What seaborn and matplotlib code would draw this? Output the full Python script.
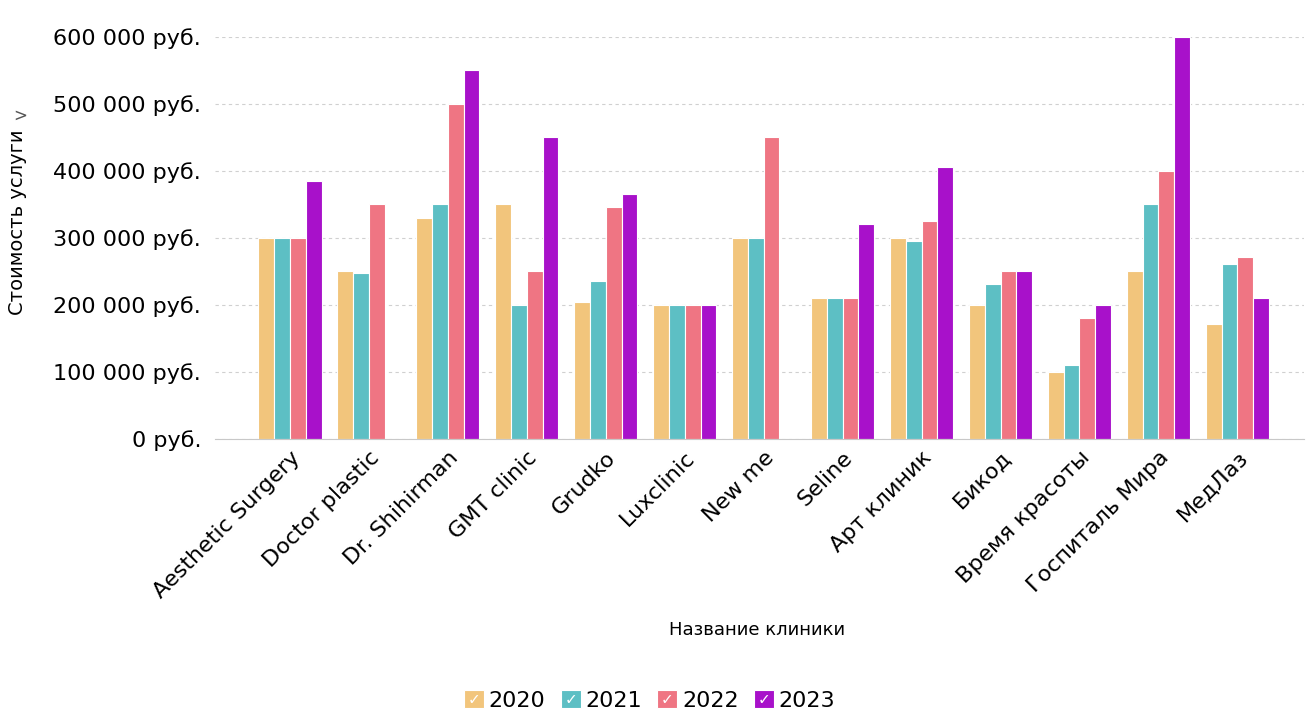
import numpy as np
import pandas as pd
import matplotlib
matplotlib.use("Agg")
import matplotlib.pyplot as plt
import seaborn as sns

# данные (стоимость услуги по клиникам и годам)
clinics = ["Aesthetic Surgery", "Doctor plastic", "Dr. Shihirman", "GMT clinic", "Grudko",
           "Luxclinic", "New me", "Seline", "Арт клиник", "Бикод", "Время красоты",
           "Госпиталь Мира", "МедЛаз"]
years = ["2020", "2021", "2022", "2023"]
v2020 = [300000, 250000, 330000, 350000, 205000, 200000, 300000, 210000, 300000, 200000, 100000, 250000, 171000]
v2021 = [300000, 248000, 350000, 200000, 236000, 200000, 300000, 210000, 296000, 231000, 110000, 350000, 261000]
v2022 = [300000, 350000, 500000, 250000, 346000, 200000, 450000, 210000, 326000, 250000, 181000, 400000, 271000]
v2023 = [385000, np.nan, 550000, 450000, 366000, 200000, np.nan, 321000, 406000, 250000, 200000, 600000, 210000]
colors = ["#F2C57C", "#5DBFC4", "#EF7583", "#A811CA"]

rows = []
for y, vals in zip(years, [v2020, v2021, v2022, v2023]):
    for c, v in zip(clinics, vals):
        rows.append({"clinic": c, "year": y, "price": v})
df = pd.DataFrame(rows)

sns.set_style("white")
plt.rcParams["font.family"] = ["DejaVu Sans"]
plt.rcParams["text.color"] = "black"
plt.rcParams["xtick.color"] = "black"
plt.rcParams["ytick.color"] = "black"

fig = plt.figure(figsize=(13.15, 7.25), dpi=100)
ax = fig.add_axes([0.1635, 0.3945, 0.8285, 0.5545])

sns.barplot(data=df.dropna(), x="clinic", y="price", hue="year", order=clinics,
            hue_order=years, palette=colors, width=0.8, errorbar=None,
            edgecolor="white", linewidth=0.8, saturation=1, ax=ax)

ax.set_ylim(0, 600000)
ax.set_xlim(-0.95, 12.85)
ax.set_yticks(range(0, 600001, 100000))
ax.set_yticklabels([f"{v:,}".replace(",", " ") + " руб." for v in range(0, 600001, 100000)],
                   fontsize=16)
ax.set_xticks(range(len(clinics)))
ax.set_xticklabels(clinics, rotation=45, ha="right", rotation_mode="anchor", fontsize=16)
ax.tick_params(axis="both", length=0, pad=10)
ax.tick_params(axis="x", pad=6)

ax.yaxis.grid(True, linestyle=(0, (3, 3)), color="#d0d0d0", linewidth=0.8)
ax.set_axisbelow(True)
for s in ["top", "right", "left"]:
    ax.spines[s].set_visible(False)
ax.spines["bottom"].set_color("#c8c8c8")

ax.set_ylabel("")
ax.set_xlabel("")
fig.text(0.013, 0.694, "Стоимость услуги", fontsize=14, rotation=90, ha="center", va="center")
fig.text(0.0155, 0.84, ">", fontsize=12, color="#555555", ha="center", va="center")
fig.text(0.576, 0.131, "Название клиники", fontsize=13, ha="center", va="center")

leg = ax.legend(loc="center", bbox_to_anchor=(0.494, 0.034), bbox_transform=fig.transFigure,
                ncol=4, frameon=False, fontsize=16, handlelength=0.9, handleheight=0.9,
                handletextpad=0.2, columnspacing=0.7, title=None)

# галочки на маркерах легенды
fig.canvas.draw()
inv = fig.transFigure.inverted()
for h in leg.legend_handles:
    bb = h.get_window_extent()
    cx, cy = inv.transform(((bb.x0 + bb.x1) / 2, (bb.y0 + bb.y1) / 2))
    fig.text(cx, cy, "\u2713", color="white", fontsize=11, ha="center", va="center")

fig.savefig("out.png", dpi=100)
